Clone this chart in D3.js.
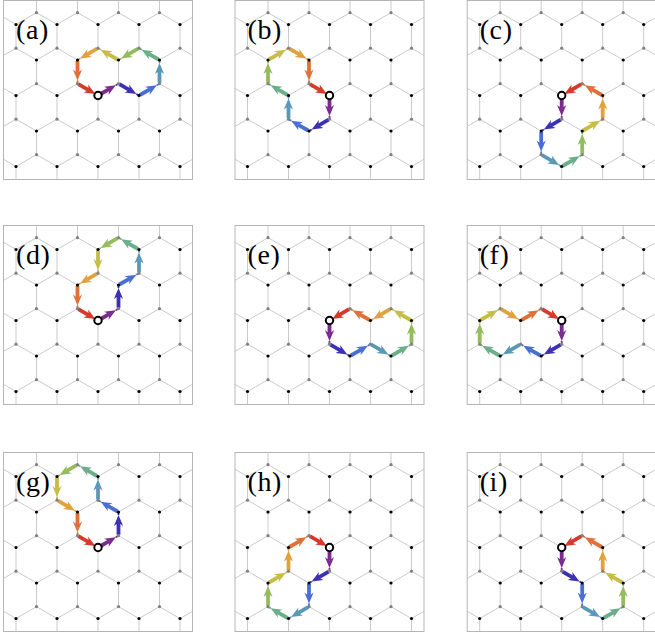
<!DOCTYPE html>
<html>
<head>
<meta charset="utf-8">
<script src="https://cdn.jsdelivr.net/npm/d3@7"></script>
<style>
  html, body { margin: 0; padding: 0; background: #fff; }
  svg { display: block; }
</style>
</head>
<body>
<svg id="fig" width="655" height="639"></svg>
<script>
// Closed walks on the honeycomb lattice, one per panel.
// Coordinates: u = half hexagon widths (right +), v = half bond lengths (up +),
// origin at the starting site (open circle).
const walkA = [[0,0],[1,1],[2,0],[3,1],[3,3],[2,4],[1,3],[0,4],[-1,3],[-1,1],[0,0]];
const walkB = [[0,0],[0,-2],[-1,-3],[-2,-2],[-2,0],[-3,1],[-3,3],[-2,4],[-1,3],[-1,1],[0,0]];
const walkC = [[0,0],[0,-2],[-1,-3],[-1,-5],[0,-6],[1,-5],[1,-3],[2,-2],[2,0],[1,1],[0,0]];
const walkD = [[0,0],[1,1],[1,3],[2,4],[2,6],[1,7],[0,6],[0,4],[-1,3],[-1,1],[0,0]];
const walkE = [[0,0],[0,-2],[1,-3],[2,-2],[3,-3],[4,-2],[4,0],[3,1],[2,0],[1,1],[0,0]];
const walkF = [[0,0],[0,-2],[-1,-3],[-2,-2],[-3,-3],[-4,-2],[-4,0],[-3,1],[-2,0],[-1,1],[0,0]];
const walkG = [[0,0],[1,1],[1,3],[0,4],[0,6],[-1,7],[-2,6],[-2,4],[-1,3],[-1,1],[0,0]];
const walkH = [[0,0],[0,-2],[-1,-3],[-1,-5],[-2,-6],[-3,-5],[-3,-3],[-2,-2],[-2,0],[-1,1],[0,0]];
const walkI = [[0,0],[0,-2],[1,-3],[1,-5],[2,-6],[3,-5],[3,-3],[2,-2],[2,0],[1,1],[0,0]];

const walks = [walkA, walkB, walkC, walkD, walkE, walkF, walkG, walkH, walkI];
const panelLabels = ["(a)", "(b)", "(c)", "(d)", "(e)", "(f)", "(g)", "(h)", "(i)"];

// Colour of each step along a walk (first step purple, last step red).
const stepColors = ["#7b2b8e", "#3b30b6", "#4a6fd4", "#5a98b8", "#6cae8a",
                    "#95bc5c", "#c6bd47", "#dfa23d", "#e07038", "#d63a2c"];

// Panel placement
const colOffsets = [0, 231.5, 463.7];
const rowOffsets = [0, 225, 452];
const frame = { x0: 3.5, x1: 192.5, y0: 0.5, y1: 179.5 };
const origin = { x: 98, y: 95.5 };
const halfWidth = 20.5;               // px per u unit
const halfBond = 11.835;              // px per v unit

const x = d3.scaleLinear().domain([0, 1]).range([origin.x, origin.x + halfWidth]);
const y = d3.scaleLinear().domain([0, 1]).range([origin.y, origin.y - halfBond]);

// Lattice sites: "A" sites at v = 3m with u ≡ m (mod 2); "B" sites sit one bond below.
const aSites = [], bSites = [], bonds = [];
for (let m = -5; m <= 5; m++) {
  for (let u = -8; u <= 8; u++) {
    if (((u - m) % 2 + 2) % 2 !== 0) continue;
    const v = 3 * m;
    aSites.push([u, v]);
    bSites.push([u, v - 2]);
    bonds.push([[u, v], [u, v - 2]]);
    bonds.push([[u, v], [u - 1, v + 1]]);
    bonds.push([[u, v], [u + 1, v + 1]]);
  }
}

const svg = d3.select("#fig");
const defs = svg.append("defs");

walks.forEach((walk, k) => {
  const col = k % 3, row = Math.floor(k / 3);
  const g = svg.append("g")
    .attr("transform", `translate(${colOffsets[col]},${rowOffsets[row]})`);

  const clipId = "clip" + k;
  defs.append("clipPath").attr("id", clipId)
    .append("rect")
    .attr("x", frame.x0).attr("y", frame.y0)
    .attr("width", frame.x1 - frame.x0).attr("height", frame.y1 - frame.y0);

  const body = g.append("g").attr("clip-path", `url(#${clipId})`);

  // bonds
  body.append("g").selectAll("line").data(bonds).join("line")
    .attr("x1", d => x(d[0][0])).attr("y1", d => y(d[0][1]))
    .attr("x2", d => x(d[1][0])).attr("y2", d => y(d[1][1]))
    .attr("stroke", "#cbcbcb").attr("stroke-width", 1);

  // arrows along the walk
  const steps = d3.pairs(walk);
  const arrows = body.append("g");
  steps.forEach(([p, q], i) => {
    const px = x(p[0]), py = y(p[1]), qx = x(q[0]), qy = y(q[1]);
    const L = Math.hypot(qx - px, qy - py);
    const dx = (qx - px) / L, dy = (qy - py) / L;
    const nx = -dy, ny = dx;
    const hl = 11, hw = 4.6, sw = 3.8;
    const tip = 0.87 * L;
    const tx = px + dx * tip, ty = py + dy * tip;
    const bx = tx - dx * hl, by = ty - dy * hl;
    const nxp = tx - dx * hl * 0.7, nyp = ty - dy * hl * 0.7;
    const c = stepColors[i];
    arrows.append("line")
      .attr("x1", px + dx * 1).attr("y1", py + dy * 1)
      .attr("x2", nxp).attr("y2", nyp)
      .attr("stroke", c).attr("stroke-width", sw);
    arrows.append("line")
      .attr("x1", tx).attr("y1", ty)
      .attr("x2", qx).attr("y2", qy)
      .attr("stroke", c).attr("stroke-width", 1.8);
    arrows.append("path")
      .attr("d", `M${tx},${ty}L${bx + nx * hw},${by + ny * hw}L${nxp},${nyp}L${bx - nx * hw},${by - ny * hw}Z`)
      .attr("fill", c);
  });

  // sites
  body.append("g").selectAll("circle").data(bSites).join("circle")
    .attr("cx", d => x(d[0])).attr("cy", d => y(d[1])).attr("r", 1.6)
    .attr("fill", "#808080");
  body.append("g").selectAll("circle").data(aSites).join("circle")
    .attr("cx", d => x(d[0])).attr("cy", d => y(d[1])).attr("r", 1.6)
    .attr("fill", "#000");

  // starting site
  g.append("circle")
    .attr("cx", x(walk[0][0])).attr("cy", y(walk[0][1])).attr("r", 3.7)
    .attr("fill", "#fff").attr("stroke", "#000").attr("stroke-width", 2);

  // panel label
  g.append("text")
    .attr("x", 16).attr("y", 39)
    .attr("font-family", "'Liberation Serif', 'DejaVu Serif', serif")
    .attr("font-size", 28)
    .attr("letter-spacing", 0.6)
    .attr("fill", "#000")
    .text(panelLabels[k]);

  // frame
  g.append("rect")
    .attr("x", frame.x0).attr("y", frame.y0)
    .attr("width", frame.x1 - frame.x0).attr("height", frame.y1 - frame.y0)
    .attr("fill", "none").attr("stroke", "#b5b5b5").attr("stroke-width", 1);
});
</script>
</body>
</html>
